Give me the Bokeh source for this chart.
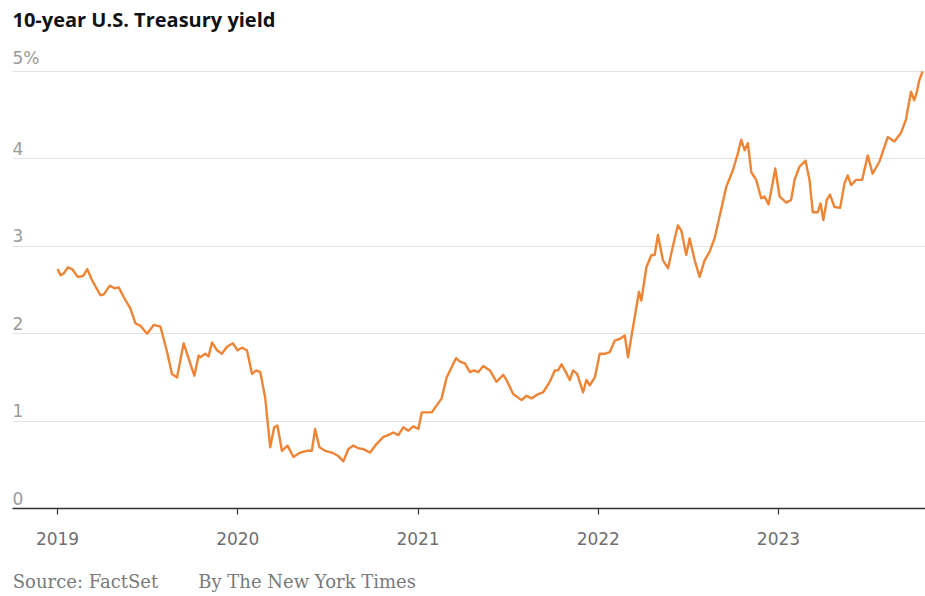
from bokeh.plotting import figure
from bokeh.models import Range1d, FixedTicker, Label, ColumnDataSource
from bokeh.core.properties import value
from bokeh.embed import file_html
from bokeh.resources import INLINE

# --- data (decimal year, yield %) ---
years = [
    2019.000, 2019.017, 2019.035, 2019.057, 2019.081, 2019.112, 2019.142, 2019.165, 2019.192, 2019.238,
    2019.257, 2019.290, 2019.316, 2019.340, 2019.367, 2019.404, 2019.432, 2019.460, 2019.497, 2019.534,
    2019.571, 2019.608, 2019.635, 2019.663, 2019.700, 2019.733, 2019.759, 2019.783, 2019.792, 2019.820,
    2019.838, 2019.857, 2019.885, 2019.912, 2019.940, 2019.973, 2019.999, 2020.023, 2020.051, 2020.079,
    2020.102, 2020.125, 2020.152, 2020.180, 2020.202, 2020.220, 2020.245, 2020.276, 2020.309, 2020.346,
    2020.383, 2020.411, 2020.429, 2020.453, 2020.485, 2020.522, 2020.558, 2020.586, 2020.614, 2020.641,
    2020.669, 2020.697, 2020.734, 2020.771, 2020.808, 2020.835, 2020.863, 2020.891, 2020.919, 2020.946,
    2020.974, 2021.002, 2021.021, 2021.048, 2021.076, 2021.104, 2021.131, 2021.159, 2021.187, 2021.211,
    2021.233, 2021.260, 2021.288, 2021.310, 2021.334, 2021.362, 2021.399, 2021.436, 2021.473, 2021.491,
    2021.528, 2021.575, 2021.602, 2021.630, 2021.667, 2021.694, 2021.731, 2021.759, 2021.777, 2021.796,
    2021.820, 2021.842, 2021.860, 2021.883, 2021.916, 2021.934, 2021.953, 2021.981, 2022.008, 2022.036,
    2022.064, 2022.091, 2022.119, 2022.147, 2022.165, 2022.193, 2022.226, 2022.239, 2022.267, 2022.295,
    2022.313, 2022.331, 2022.359, 2022.387, 2022.414, 2022.442, 2022.461, 2022.488, 2022.507, 2022.535,
    2022.562, 2022.590, 2022.618, 2022.645, 2022.673, 2022.710, 2022.747, 2022.774, 2022.793, 2022.812,
    2022.830, 2022.849, 2022.876, 2022.904, 2022.922, 2022.945, 2022.960, 2022.982, 2023.006, 2023.043,
    2023.070, 2023.089, 2023.116, 2023.150, 2023.172, 2023.190, 2023.218, 2023.233, 2023.249, 2023.268,
    2023.286, 2023.310, 2023.342, 2023.366, 2023.384, 2023.403, 2023.430, 2023.464, 2023.495, 2023.522,
    2023.560, 2023.606, 2023.643, 2023.680, 2023.707, 2023.735, 2023.753, 2023.768, 2023.781, 2023.799,
]
yields = [
    2.74, 2.67, 2.69, 2.76, 2.74, 2.65, 2.66, 2.74, 2.61, 2.44,
    2.45, 2.55, 2.52, 2.53, 2.42, 2.29, 2.12, 2.09, 2.00, 2.10,
    2.08, 1.79, 1.54, 1.50, 1.89, 1.68, 1.52, 1.75, 1.73, 1.77,
    1.74, 1.90, 1.81, 1.77, 1.85, 1.89, 1.81, 1.84, 1.81, 1.54,
    1.58, 1.56, 1.27, 0.70, 0.93, 0.95, 0.66, 0.72, 0.59, 0.64,
    0.66, 0.66, 0.91, 0.70, 0.66, 0.64, 0.60, 0.54, 0.68, 0.72,
    0.69, 0.68, 0.64, 0.74, 0.82, 0.84, 0.87, 0.84, 0.93, 0.89,
    0.94, 0.91, 1.10, 1.10, 1.10, 1.18, 1.26, 1.50, 1.62, 1.72,
    1.68, 1.66, 1.56, 1.58, 1.56, 1.63, 1.58, 1.45, 1.53, 1.47,
    1.31, 1.24, 1.29, 1.26, 1.31, 1.33, 1.45, 1.58, 1.58, 1.65,
    1.56, 1.47, 1.58, 1.54, 1.33, 1.47, 1.41, 1.50, 1.77, 1.77,
    1.79, 1.92, 1.94, 1.98, 1.73, 2.08, 2.48, 2.38, 2.76, 2.90,
    2.90, 3.13, 2.84, 2.75, 3.00, 3.24, 3.18, 2.90, 3.09, 2.84,
    2.65, 2.84, 2.94, 3.09, 3.34, 3.68, 3.87, 4.06, 4.22, 4.10,
    4.18, 3.85, 3.76, 3.55, 3.57, 3.48, 3.64, 3.89, 3.57, 3.50,
    3.53, 3.76, 3.91, 3.98, 3.76, 3.39, 3.39, 3.49, 3.30, 3.53,
    3.59, 3.45, 3.44, 3.72, 3.81, 3.70, 3.76, 3.76, 4.04, 3.83,
    3.97, 4.25, 4.20, 4.30, 4.45, 4.77, 4.67, 4.77, 4.90, 5.00,
]

x_ticks = [2019, 2020, 2021, 2022, 2023]
x_tick_labels = ["2019", "2020", "2021", "2022", "2023"]
y_ticks = [0, 1, 2, 3, 4, 5]
y_tick_labels = ["0", "1", "2", "3", "4", "5%"]

title_text = "10-year U.S. Treasury yield"
source_text = "Source: FactSet"
byline_text = "By The New York Times"
NBSP = "\u00a0"
# the axis label is centred under the frame: trailing no-break spaces shift the
# visible credit line to the frame's left edge
credit_text = source_text + NBSP * 7 + byline_text + NBSP * 89

X0, X1 = 2018.7503, 2023.8155
Y0, Y1 = 0.0, 5.8124

p = figure(width=925, height=596, output_backend="svg", toolbar_location=None,
           x_range=Range1d(X0, X1), y_range=Range1d(Y0, Y1),
           y_axis_location=None,
           min_border_left=12, min_border_right=0, min_border_top=0, min_border_bottom=88)
p.outline_line_color = None
p.background_fill_color = "white"
p.border_fill_color = "white"

# grid
p.xgrid.visible = False
p.ygrid.ticker = FixedTicker(ticks=[1, 2, 3, 4, 5])
p.ygrid.grid_line_color = "#e3e3e3"
p.ygrid.grid_line_width = 1

# x axis
ax = p.xaxis[0]
ax.ticker = FixedTicker(ticks=x_ticks)
ax.major_label_overrides = {t: l for t, l in zip(x_ticks, x_tick_labels)}
ax.axis_line_color = "#333333"
ax.axis_line_width = 1.5
ax.major_tick_line_color = "#333333"
ax.major_tick_line_width = 1.2
ax.major_tick_in = 0
ax.major_tick_out = 6
ax.minor_tick_line_color = None
ax.major_label_text_color = "#6f6f6f"
ax.major_label_text_font = "DejaVu Sans"
ax.major_label_text_font_size = "17px"
ax.major_label_standoff = 17

# credit line as the axis label
ax.axis_label = credit_text
ax.axis_label_text_font = "DejaVu Serif"
ax.axis_label_text_font_style = "normal"
ax.axis_label_text_font_size = "18px"
ax.axis_label_text_color = "#7a7a7a"
ax.axis_label_standoff = 23

# data line
src = ColumnDataSource(dict(x=years, y=yields))
p.line("x", "y", source=src, line_color="#ee8536", line_width=2.4, line_join="round")

# y tick labels
ysrc = ColumnDataSource(dict(x=[X0] * len(y_ticks), y=y_ticks, t=y_tick_labels))
p.text("x", "y", text="t", source=ysrc, text_font=value("DejaVu Sans"),
       text_font_size="17px", text_color="#9a9a9a", text_align="left",
       text_baseline="bottom", y_offset=-4)

# title
p.add_layout(Label(x=X0, y=5.445, text=title_text, text_font="Open Sans",
                   text_font_style="bold", text_font_size="20px", text_color="#121212",
                   text_baseline="bottom"))

open("out.html", "w").write(file_html(p, INLINE))
